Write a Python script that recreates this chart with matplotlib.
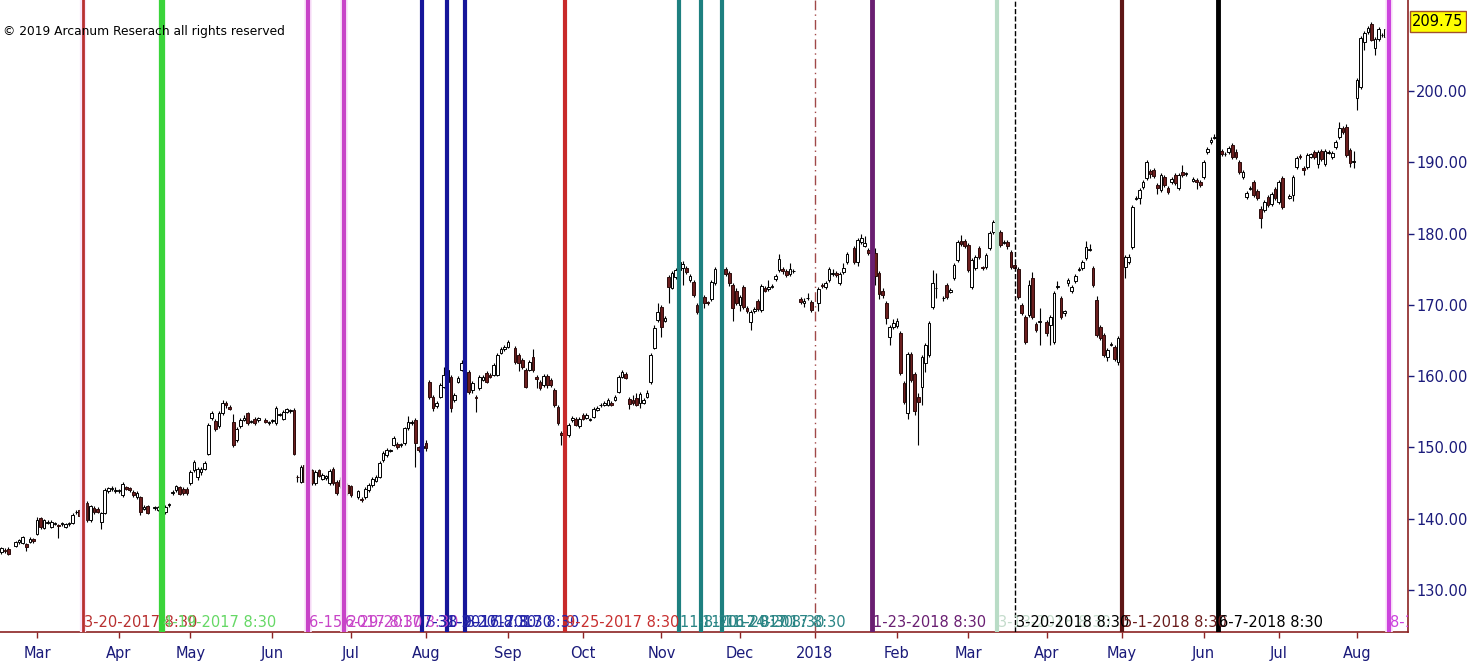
import numpy as np
import pandas as pd
import matplotlib
matplotlib.use("Agg")
import matplotlib.pyplot as plt
import matplotlib.transforms as mtransforms

# daily candles, one slot per weekday starting 2017-02-15 (None = market closed)
opens = [
    135.3,135.6,135.8,None,136.2,136.7,136.6,136.4,136.8,137.2,
    137.9,140.1,138.7,139.4,138.9,139.3,139.1,139.3,138.9,139.3,
    139.4,140.9,141.3,140.4,142.2,139.8,141.5,141.4,139.5,140.8,
    143.9,144.2,143.9,143.9,143.3,144.4,144.3,143.7,143.0,143.0,
    141.4,141.8,None,141.5,141.3,141.6,140.9,141.9,143.6,144.0,
    144.4,144.2,144.2,145.0,146.8,145.8,146.5,147.0,149.1,154.1,
    153.7,153.0,154.8,156.2,155.7,153.6,151.0,153.0,153.9,154.8,
    153.6,154.0,153.8,None,153.9,153.4,153.7,153.4,154.6,154.0,
    155.0,155.1,155.3,145.9,145.2,147.5,143.8,146.8,145.0,146.8,
    145.6,145.7,145.0,147.0,145.2,145.5,143.7,144.8,144.6,None,
    143.0,142.8,143.0,144.0,144.7,145.3,145.9,148.2,148.9,149.5,
    150.4,150.5,150.3,150.6,152.7,153.4,153.9,150.0,149.9,150.6,
    159.2,157.1,155.8,157.1,158.5,159.2,159.9,156.7,159.2,160.9,
    162.3,160.6,158.0,157.1,158.3,159.5,160.4,160.2,160.2,160.2,
    163.3,163.8,164.1,None,164.0,163.0,162.3,160.9,160.9,162.7,
    159.9,159.2,158.7,160.0,159.5,158.0,155.7,152.0,150.0,151.8,
    153.8,154.0,153.0,154.5,154.2,153.9,154.3,155.3,155.9,156.0,
    156.0,156.3,156.7,157.8,159.9,160.3,156.8,156.6,157.0,156.2,
    156.3,157.1,159.2,164.0,167.9,169.7,167.8,173.9,172.4,173.9,
    174.9,175.2,175.2,173.5,173.2,170.0,171.0,171.1,170.4,170.8,
    173.0,None,175.1,175.0,174.5,172.8,172.0,170.0,172.5,169.6,
    167.6,169.1,170.5,169.3,172.4,172.2,172.5,173.6,174.9,175.0,
    174.8,174.3,174.7,None,170.8,170.2,170.9,170.4,None,170.3,
    172.8,172.5,173.5,174.3,174.5,173.0,174.6,176.0,None,178.0,
    176.0,178.8,178.3,177.7,177.5,177.3,174.5,172.0,170.3,165.5,
    166.9,167.1,166.1,159.0,154.8,163.1,160.3,157.1,158.5,161.9,
    163.0,169.7,172.3,None,170.9,172.8,171.8,173.8,176.3,179.0,
    179.0,178.4,172.5,175.2,178.0,175.3,175.3,178.0,180.2,182.6,
    180.2,178.7,178.8,177.4,175.6,175.0,170.0,168.3,168.6,173.8,
    167.3,167.6,None,167.6,167.2,164.8,172.5,171.0,168.8,173.0,
    172.0,173.4,174.9,175.2,176.6,177.7,175.2,170.7,166.9,165.8,
    162.7,164.4,164.1,162.0,166.5,175.3,176.0,178.1,184.9,185.0,
    186.5,187.8,188.8,188.9,186.8,186.1,187.9,186.4,187.3,188.2,
    186.4,188.6,188.3,None,187.4,187.5,187.2,187.9,191.5,192.8,
    193.4,193.5,191.6,191.1,191.5,192.4,191.5,190.0,188.0,185.1,
    186.3,187.2,186.0,183.5,183.3,185.1,184.2,186.2,184.4,187.8,
    None,185.0,185.4,189.3,190.9,189.2,189.3,190.8,191.4,189.8,
    191.6,189.8,191.3,190.8,192.1,193.5,194.8,195.0,191.7,190.1,
    199.0,200.6,206.9,208.3,209.4,206.0,207.3,207.8,207.6,208.7,
]
highs = [
    136.1,135.9,136.0,None,136.9,137.2,137.6,136.6,137.4,137.3,
    140.3,140.3,140.0,139.8,139.8,139.6,139.3,139.6,139.4,139.6,
    140.8,141.2,141.5,141.8,142.5,142.0,141.8,141.6,141.0,144.3,
    144.5,144.6,144.4,144.2,145.2,144.6,144.5,144.0,143.9,143.2,
    141.9,142.0,None,141.8,141.8,141.8,141.9,142.2,144.0,144.8,
    144.6,144.4,144.4,146.8,148.3,147.2,147.3,148.1,153.5,155.1,
    154.0,155.1,156.6,156.5,155.9,154.7,152.9,154.1,154.5,155.0,
    153.9,154.3,154.3,None,154.1,153.7,154.0,155.8,154.9,155.3,
    155.6,155.4,155.5,146.1,147.6,147.8,144.1,147.0,146.8,147.0,
    146.4,146.2,147.0,147.2,145.5,145.8,144.0,145.0,144.8,None,
    144.1,143.0,144.4,145.0,145.9,146.1,148.1,149.5,149.9,149.8,
    151.6,150.8,150.6,152.9,154.4,153.8,154.1,150.2,150.5,151.0,
    159.5,157.4,156.5,159.1,161.3,161.2,160.2,157.7,160.0,162.2,
    162.6,160.9,159.3,157.4,160.2,160.2,160.7,160.5,161.9,163.3,
    164.1,164.4,165.1,None,164.3,163.3,162.6,161.2,162.3,163.8,
    160.2,159.5,160.3,160.3,159.8,158.3,156.0,152.3,150.9,153.5,
    154.4,154.3,154.3,154.8,154.9,154.2,155.7,155.8,156.2,156.5,
    157.0,156.5,157.4,160.2,160.9,160.6,157.1,157.3,157.6,157.8,
    157.0,158.0,163.3,167.2,170.2,170.0,168.4,174.2,174.8,175.2,
    176.3,176.1,175.5,174.3,173.5,170.3,172.1,171.4,170.6,173.5,
    175.3,None,175.4,175.3,174.8,173.1,172.3,171.4,172.8,169.9,
    169.3,169.7,170.8,172.9,172.7,173.5,172.9,174.3,177.2,175.3,
    175.1,175.9,175.0,None,171.1,170.9,171.7,170.7,None,172.5,
    173.0,173.4,175.3,175.0,174.8,174.6,175.9,177.4,None,178.3,
    179.4,179.9,179.6,178.0,177.9,178.0,174.8,172.3,170.6,167.2,
    168.0,168.1,166.4,159.3,163.4,163.4,160.6,157.6,163.0,164.7,
    167.8,174.9,174.5,None,171.3,173.1,172.3,175.9,179.1,179.8,
    179.3,178.7,176.6,177.0,178.3,175.5,177.3,180.4,181.9,183.3,
    180.5,179.1,179.1,177.7,175.9,175.3,170.3,168.6,173.5,174.6,
    167.6,169.5,None,167.9,168.6,172.0,173.3,171.3,169.3,173.8,
    172.8,174.3,175.3,176.3,178.9,178.5,175.5,171.2,167.2,166.1,
    164.0,164.8,164.4,165.7,169.3,177.0,177.2,184.0,185.3,186.4,
    187.5,190.3,189.1,189.2,187.1,188.5,188.2,186.7,188.0,188.5,
    188.5,189.6,188.7,None,187.9,187.8,187.5,190.3,192.2,193.6,
    194.0,193.8,191.9,191.5,192.3,192.7,191.8,190.3,188.9,186.0,
    186.7,187.5,186.3,183.8,184.7,185.4,185.9,186.5,187.5,188.1,
    None,185.5,188.2,190.9,191.2,189.5,191.3,191.3,191.7,191.7,
    191.9,191.9,191.7,191.6,193.1,195.7,195.1,195.3,192.0,191.6,
    201.8,207.7,208.4,209.1,209.7,207.6,209.0,208.2,209.0,211.0,
]
lows = [
    135.1,135.2,134.9,None,136.0,136.5,136.4,135.5,136.6,136.6,
    137.7,138.6,138.5,139.2,138.7,139.1,137.3,139.0,138.7,139.0,
    139.2,140.7,140.2,140.2,139.5,139.6,140.7,140.8,138.6,140.6,
    143.6,143.9,143.6,143.6,143.0,144.0,143.8,143.1,142.8,140.5,
    141.2,140.6,None,141.3,141.1,140.2,140.7,141.7,143.4,143.8,
    143.3,143.3,143.4,144.8,146.6,145.5,146.2,146.8,148.9,153.8,
    152.3,152.8,154.6,155.6,155.2,150.1,150.7,152.8,153.7,153.1,
    153.4,153.2,153.6,None,153.4,153.2,153.5,153.2,154.4,153.8,
    154.8,154.9,148.9,145.1,145.0,145.0,142.1,144.8,144.8,145.8,
    145.4,145.5,144.8,144.8,143.3,144.3,143.0,143.3,143.1,None,
    142.8,142.4,142.8,143.8,144.5,145.1,145.7,148.0,148.7,149.3,
    150.2,149.8,150.1,150.4,152.5,153.2,147.3,149.4,149.6,149.5,
    156.8,155.1,155.5,156.9,158.3,159.0,155.0,156.4,159.0,160.7,
    160.3,157.5,157.7,155.0,158.1,159.3,159.0,159.7,160.0,160.0,
    163.1,163.6,163.9,None,161.7,160.7,161.0,158.3,160.7,160.6,
    158.4,158.0,158.5,158.4,158.5,155.7,153.1,150.4,149.2,151.5,
    153.6,153.0,152.8,153.8,154.0,153.7,154.1,155.1,155.7,155.8,
    155.8,155.8,156.5,157.6,159.7,159.6,155.4,155.9,155.8,155.6,
    156.1,156.9,158.9,163.8,167.6,165.5,167.6,170.2,172.2,173.6,
    174.6,172.8,174.3,173.2,171.1,168.7,170.8,169.5,170.0,170.6,
    172.8,None,174.8,174.0,172.7,167.8,170.0,169.2,169.4,168.9,
    166.5,168.9,169.1,169.0,171.8,172.0,172.3,173.3,174.6,174.4,
    173.9,174.0,174.5,None,170.1,169.7,170.7,169.0,None,169.2,
    172.3,172.2,173.2,174.0,173.9,172.8,174.4,175.8,None,175.7,
    175.4,178.6,178.1,177.0,177.2,172.8,170.8,171.0,167.3,164.4,
    166.6,166.8,160.1,156.1,154.0,159.2,154.6,150.4,156.0,160.6,
    162.7,169.4,171.0,None,170.6,170.8,171.6,173.5,176.0,178.2,
    178.0,174.6,172.2,174.9,176.4,174.9,175.0,177.7,180.0,180.0,
    178.1,178.5,177.9,175.0,175.0,170.8,168.6,164.5,168.3,168.0,
    166.2,164.4,None,165.7,164.4,164.5,172.2,168.0,168.5,172.7,
    171.7,173.1,174.7,174.9,176.3,177.5,172.5,165.5,165.1,162.7,
    162.1,164.2,162.1,161.5,166.2,173.8,175.7,177.8,184.7,184.2,
    186.2,187.5,187.8,187.8,185.6,185.8,186.5,185.5,187.0,186.8,
    186.1,187.9,188.1,None,187.2,186.3,186.5,187.6,191.2,192.6,
    193.2,192.6,190.9,190.9,191.2,190.4,190.4,188.3,187.7,184.8,
    186.1,185.1,184.7,180.8,183.0,183.7,183.9,184.7,184.1,183.4,
    None,184.8,184.6,189.0,190.5,188.2,189.0,190.6,190.5,189.2,
    190.2,189.5,191.1,190.5,191.8,193.2,194.0,190.7,189.3,189.2,
    197.4,200.3,205.7,208.0,207.0,205.0,207.0,207.6,207.3,208.4,
]
closes = [
    135.9,135.5,135.1,None,136.7,137.0,137.4,136.0,137.1,136.9,
    139.8,138.9,139.8,139.6,139.6,139.4,139.0,139.4,139.2,139.4,
    140.5,141.0,140.4,141.5,139.8,141.8,141.0,141.0,140.8,144.0,
    144.3,144.3,144.1,144.0,144.9,144.2,144.0,143.3,143.6,140.9,
    141.7,140.8,None,141.6,141.6,140.6,141.6,142.0,143.8,144.6,
    143.5,143.6,143.6,146.6,148.0,147.0,147.0,147.8,153.2,154.8,
    152.6,154.8,156.2,155.9,155.4,150.4,152.6,153.8,154.2,153.4,
    153.7,153.4,154.1,None,153.6,153.5,153.8,155.5,154.7,155.0,
    155.4,155.2,149.1,145.8,147.3,145.2,142.4,145.0,146.5,146.0,
    146.1,146.0,146.7,145.0,143.6,144.6,143.3,143.6,143.4,None,
    143.9,142.7,144.2,144.7,145.6,145.9,147.8,149.2,149.6,149.6,
    151.3,150.0,150.4,152.7,153.6,153.5,150.6,149.7,150.2,149.9,
    157.1,155.5,156.2,158.8,160.2,160.9,155.5,157.4,159.7,161.9,
    160.5,157.8,159.0,156.9,159.9,159.9,159.2,159.9,161.6,163.0,
    163.8,164.1,164.8,None,162.0,161.9,161.3,158.5,162.0,160.9,
    159.6,158.3,160.0,158.7,158.7,156.0,153.4,151.8,150.6,153.2,
    154.1,153.2,154.0,154.0,154.6,154.0,155.4,155.6,156.0,156.3,
    156.7,156.0,157.1,159.9,160.6,159.8,156.1,156.3,156.0,157.5,
    156.7,157.7,163.0,166.8,169.0,166.9,168.1,172.5,174.5,174.9,
    176.0,175.8,174.6,174.0,171.4,169.0,171.6,170.3,170.3,173.2,
    175.0,None,175.0,174.3,173.0,169.6,170.3,171.1,169.7,169.2,
    169.0,169.4,169.4,172.6,172.0,172.5,172.6,174.0,176.4,174.7,
    174.2,175.0,174.8,None,170.4,170.6,171.0,169.3,None,172.2,
    172.6,173.1,175.0,174.4,174.2,174.3,175.2,177.1,None,176.0,
    179.1,179.4,178.7,177.3,177.6,174.0,171.5,171.4,168.2,166.9,
    167.5,167.8,160.4,156.4,163.1,159.5,155.1,156.4,162.7,164.4,
    167.5,173.1,172.4,None,171.0,171.1,172.1,175.6,178.8,178.5,
    178.3,174.9,176.3,176.7,176.7,175.2,177.0,180.1,181.6,180.1,
    178.4,178.8,178.2,175.3,175.2,171.1,168.9,164.8,172.8,168.3,
    166.5,167.7,None,166.0,168.3,171.7,172.6,168.3,169.1,173.5,
    172.5,174.0,175.0,176.0,178.1,177.8,172.8,165.8,165.4,163.0,
    163.7,164.5,162.4,165.4,169.0,176.7,176.7,183.7,185.0,186.1,
    187.2,190.0,188.4,188.1,186.4,188.2,186.8,185.8,187.7,187.1,
    188.2,188.2,188.5,None,187.7,187.2,186.8,190.0,191.9,193.1,
    193.6,193.0,191.2,191.2,192.0,190.7,190.7,188.6,188.6,185.7,
    186.4,185.4,185.0,182.2,184.4,184.0,185.6,185.0,187.2,183.7,
    None,185.3,187.9,190.6,190.7,188.9,191.0,191.1,190.8,191.4,
    190.5,191.6,191.4,191.3,192.8,194.8,194.3,191.0,189.9,190.2,
    201.5,207.4,208.1,208.8,207.2,207.3,208.7,207.9,208.7,209.75,
]

# event lines: date, colour, width, style
ev_dates = ["2017-03-20", "2017-04-19", "2017-06-15", "2017-06-29", "2017-07-31",
            "2017-08-09", "2017-08-16", "2017-09-25", "2017-11-08", "2017-11-16",
            "2017-11-24", "2018-01-23", "2018-03-13", "2018-03-20", "2018-05-01",
            "2018-06-07", "2018-08-14"]
ev_colors = ["#b83030", "#3ad43a", "#c844c8", "#c844c8", "#16169a",
             "#16169a", "#16169a", "#c82a2a", "#1e8080", "#1e8080",
             "#1e8080", "#6a1f72", "#b9dcc6", "black", "#5e1616",
             "black", "#cc44dd"]
ev_text = ["#b83030", "#66d866", "#c844c8", "#c844c8", "#2424a8",
           "#2424a8", "#2424a8", "#c83030", "#2a8585", "#2a8585",
           "#2a8585", "#6a1f72", "#c4dccc", "black", "#6a1c1c",
           "black", "#cc44dd"]
ev_widths = [2, 4.5, 3, 3, 3, 3, 3, 3, 3, 3, 3, 3.5, 3, 1, 3, 3.5, 3]
ev_styles = ["-", "-", "-", "-", "-", "-", "-", "-", "-", "-", "-", "-", "-", "--", "-", "-", "-"]

last_price = 209.75

o = np.array(opens, dtype=float)
h = np.array(highs, dtype=float)
l = np.array(lows, dtype=float)
c = np.array(closes, dtype=float)
days = pd.bdate_range("2017-02-15", periods=len(c))
pos = np.arange(len(c))
ok = ~np.isnan(c)

fig = plt.figure(figsize=(14.67, 6.72), dpi=100)
ax = fig.add_axes([0, 1 - 632 / 672, 1408 / 1467, 632 / 672])

# candles
ax.vlines(pos[ok], l[ok], h[ok], color="black", lw=0.8, zorder=2)
up = ok & (c >= o)
dn = ok & (c < o)
ax.bar(pos[up], np.maximum(c[up] - o[up], 0.12), bottom=o[up], width=0.75,
       color="white", edgecolor="black", linewidth=0.7, zorder=2.5)
ax.bar(pos[dn], o[dn] - c[dn], bottom=c[dn], width=0.75,
       color="#6b1e1e", edgecolor="#2b0b0b", linewidth=0.7, zorder=2.5)

ymin, ymax = 124.12, 212.76
ax.set_ylim(ymin, ymax)
ax.set_xlim(-0.37, 394.25)

# year separator
jan = np.where(days == pd.Timestamp("2018-01-01"))[0][0]
ax.axvline(jan, color="#a04848", lw=1, ls=(0, (7, 3, 1, 3)), zorder=3)

for d, col, tc, w, s in zip(ev_dates, ev_colors, ev_text, ev_widths, ev_styles):
    t = pd.Timestamp(d)
    p = np.where(days == t)[0][0]
    if s == "-" and col in ("#c844c8", "#cc44dd", "#b83030"):
        ax.axvline(p, color="#fae6fa", lw=w + 2.5, zorder=2.8)
    ax.axvline(p, color=col, lw=w, ls=s, zorder=3)
    ax.text(p + 0.3, ymin + 0.35, "%d-%d-%d 8:30" % (t.month, t.day, t.year),
            color=tc, fontsize=10.5, ha="left", va="bottom", clip_on=True, zorder=4)

# month ticks
starts = [i for i in range(1, len(days)) if days[i].month != days[i - 1].month]
labels = ["2018" if days[i].month == 1 else days[i].strftime("%b") for i in starts]
ax.set_xticks(starts)
ax.set_xticklabels(labels)

ax.yaxis.tick_right()
ax.set_yticks(np.arange(130, 201, 10))
ax.yaxis.set_major_formatter(matplotlib.ticker.FormatStrFormatter("%.2f"))
ax.tick_params(axis="y", direction="out", length=4, width=1, color="#1a1a7a",
               labelcolor="#1a1a7a", labelsize=10.5, pad=2)
ax.tick_params(axis="x", direction="out", length=4, width=1, color="#8b2323",
               labelcolor="#1a1a7a", labelsize=10.5, pad=6)

for side in ("top", "left"):
    ax.spines[side].set_visible(False)
for side in ("right", "bottom"):
    ax.spines[side].set_color("#8b2323")
    ax.spines[side].set_linewidth(1.2)

trans = mtransforms.blended_transform_factory(ax.transAxes, ax.transData)
ax.text(1.003, last_price, "%.2f" % last_price, transform=trans, fontsize=10.5,
        color="black", ha="left", va="center",
        bbox=dict(boxstyle="square,pad=0.18", fc="#ffff00", ec="#a0522d", lw=1))

fig.text(3 / 1467, 1 - 31 / 672, "\u00a9 2019 Arcanum Reserach all rights reserved",
         fontsize=8.8, va="center", ha="left", color="black")

fig.savefig("out.png", dpi=100)
